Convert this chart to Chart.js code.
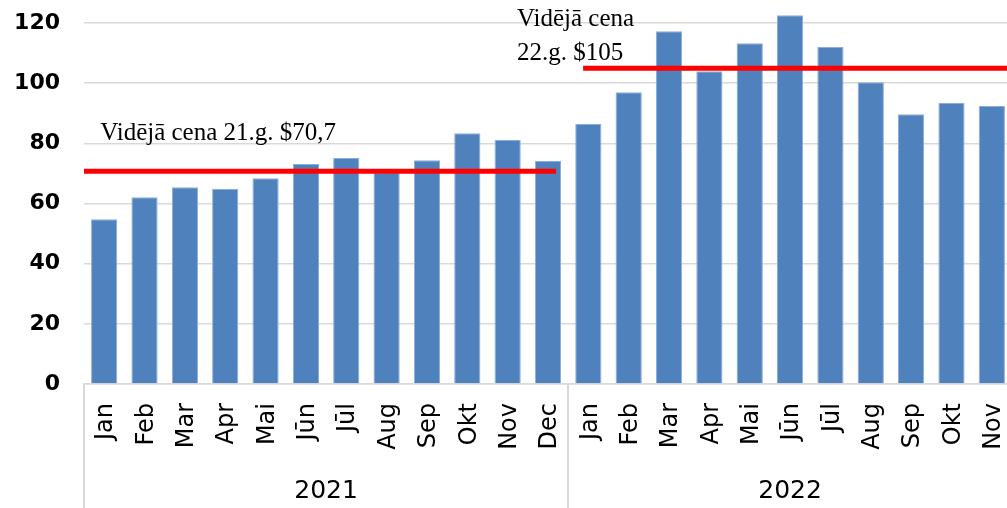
<!DOCTYPE html>
<html>
<head>
<meta charset="utf-8">
<script src="https://cdn.jsdelivr.net/npm/chart.js@4.4.0/dist/chart.umd.min.js"></script>
<style>
  html, body { margin: 0; padding: 0; overflow: hidden; background: #fff }
  #wrap { width: 1012px; height: 508px }
</style>
</head>
<body>
<div id="wrap"><canvas id="chart"></canvas></div>
<script>
// data
const months21 = ['Jan', 'Feb', 'Mar', 'Apr', 'Mai', 'Jūn', 'Jūl', 'Aug', 'Sep', 'Okt', 'Nov', 'Dec']
const months22 = ['Jan', 'Feb', 'Mar', 'Apr', 'Mai', 'Jūn', 'Jūl', 'Aug', 'Sep', 'Okt', 'Nov']
const years = ['2021', '2022']
const price21 = [54.8, 62.1, 65.4, 64.8, 68.4, 73.1, 75.1, 70.4, 74.4, 83.4, 81.1, 74.1]
const price22 = [86.4, 97.0, 117.3, 104.0, 113.3, 122.6, 112.0, 100.3, 89.7, 93.4, 92.4]
const avg21 = 70.7
const avg22 = 105
const avgText21 = ['Vidējā cena 21.g. $70,7']
const avgText22 = ['Vidējā cena', '22.g. $105']
const yTicks = [0, 20, 40, 60, 80, 100, 120]

const labels = months21.concat(months22)
const values = price21.concat(price22)

const sans = 'DejaVu Sans'

// year row under the month labels + the two average lines
const extras = {
  id: 'extras',
  afterDatasetsDraw(chart) {
    const { ctx, chartArea } = chart
    const x = chart.scales.x
    const y = chart.scales.y
    const n21 = months21.length

    ctx.save()
    ctx.strokeStyle = '#ff0000'
    ctx.lineWidth = 5
    ctx.beginPath()
    let y1 = y.getPixelForValue(avg21)
    ctx.moveTo(x.getPixelForValue(-0.5), y1)
    ctx.lineTo(x.getPixelForValue(n21 - 0.8), y1)
    let y2 = y.getPixelForValue(avg22)
    ctx.moveTo(x.getPixelForValue(n21 - 0.13), y2)
    ctx.lineTo(chartArea.right, y2)
    ctx.stroke()

    ctx.fillStyle = '#000'
    ctx.font = '25px "Liberation Serif"'
    ctx.textAlign = 'left'
    ctx.textBaseline = 'alphabetic'
    avgText21.forEach((t, i) => {
      ctx.fillText(t, x.getPixelForValue(-0.1), y1 - 31 - (avgText21.length - 1 - i) * 34)
    })
    avgText22.forEach((t, i) => {
      ctx.fillText(t, x.getPixelForValue(10.23), y2 - 8 - (avgText22.length - 1 - i) * 34)
    })
    ctx.restore()
  },
  afterDraw(chart) {
    const { ctx } = chart
    const x = chart.scales.x
    const n21 = months21.length
    const groups = [[-0.5, n21 - 0.5], [n21 - 0.5, labels.length - 0.5]]

    ctx.save()
    ctx.strokeStyle = '#d9d9d9'
    ctx.lineWidth = 2
    ctx.beginPath()
    groups.forEach(g => {
      const px = Math.round(x.getPixelForValue(g[0]))
      ctx.moveTo(px, x.top)
      ctx.lineTo(px, x.bottom)
    })
    ctx.stroke()

    ctx.fillStyle = '#000'
    ctx.font = '25px "' + sans + '"'
    ctx.textAlign = 'center'
    ctx.textBaseline = 'middle'
    groups.forEach((g, i) => {
      const cx = (x.getPixelForValue(g[0]) + x.getPixelForValue(g[1])) / 2
      ctx.fillText(years[i], cx, x.bottom - 17)
    })
    ctx.restore()
  }
}

new Chart(document.getElementById('chart'), {
  type: 'bar',
  data: {
    labels,
    datasets: [{
      data: values,
      backgroundColor: '#4f81bd',
      borderColor: '#8aaedb',
      borderWidth: 1,
      categoryPercentage: 1,
      barPercentage: 0.65
    }]
  },
  options: {
    responsive: true,
    maintainAspectRatio: false,
    animation: false,
    layout: { padding: { top: 8, right: 0, left: 0, bottom: 0 } },
    plugins: {
      legend: { display: false },
      tooltip: { enabled: false }
    },
    scales: {
      x: {
        grid: { display: false, drawTicks: false },
        border: { display: true, color: '#d9d9d9', width: 1.5 },
        ticks: {
          color: '#000',
          font: { family: sans, size: 24 },
          minRotation: 90,
          maxRotation: 90,
          autoSkip: false,
          labelOffset: 2,
          padding: 19
        },
        afterFit(scale) {
          scale.height = 124
          scale.paddingLeft = 0
          scale.paddingRight = 0
        }
      },
      y: {
        min: 0,
        max: 125,
        grid: { color: '#d9d9d9', lineWidth: 1.5, drawTicks: false },
        border: { display: false },
        ticks: {
          color: '#000',
          font: { family: sans, size: 22, weight: 'bold' },
          padding: 24
        },
        afterBuildTicks(scale) { scale.ticks = yTicks.map(v => ({ value: v })) },
        afterFit(scale) {
          scale.width = 84
          scale.paddingTop = 0
          scale.paddingBottom = 0
        }
      }
    }
  },
  plugins: [extras]
})
</script>
</body>
</html>
